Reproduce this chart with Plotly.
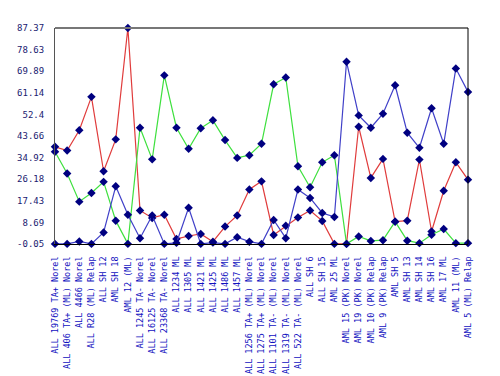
import plotly.graph_objects as go

categories = [
    "ALL 19769 TA+ Norel", "ALL 406 TA+ (ML) Norel", "ALL 4466 Norel", "ALL R28 (ML) Relap",
    "ALL SH 12", "AML SH 18", "AML 12 (ML)", "ALL 1245 TA- Norel", "ALL 16125 TA- Norel",
    "ALL 23368 TA- Norel", "ALL 1234 ML", "ALL 1305 ML", "ALL 1421 ML", "ALL 1425 ML",
    "ALL 1486 ML", "ALL 1457 ML", "ALL 1256 TA+ (ML) Norel", "ALL 1275 TA+ (ML) Norel",
    "ALL 1101 TA- (ML) Norel", "ALL 1319 TA- (ML) Norel", "ALL 522 TA- (ML) Norel",
    "ALL SH 6", "ALL SH 15", "AML 25 ML", "AML 15 (PK) Norel", "AML 19 (PK) Norel",
    "AML 10 (PK) Relap", "AML 9 (PK) Relap", "AML SH 5", "AML SH 13", "AML SH 14",
    "AML SH 16", "AML 17 ML", "AML 11 (ML)", "AML 5 (ML) Relap",
]

red_values = [39.3, 37.8, 46.0, 59.5, 29.4, 42.3, 87.37, 13.5, 10.5, 11.8, 2.0, 3.2, 4.0, 0.9,
              7.0, 11.5, 22.0, 25.3, 3.6, 7.3, 10.7, 13.5, 9.3, 0.0, 0.0, 47.4, 26.7, 34.4,
              9.0, 9.4, 34.1, 5.0, 21.5, 33.0, 26.0]
green_values = [37.3, 28.5, 17.1, 20.6, 25.1, 9.4, 0.0, 47.0, 34.2, 68.2, 47.0, 38.5, 46.8, 50.0,
                42.0, 34.8, 35.9, 40.5, 64.6, 67.3, 31.4, 22.9, 33.0, 35.9, 0.0, 3.0, 1.2, 1.5,
                9.0, 1.3, 0.3, 3.7, 6.0, 0.3, 0.3]
blue_values = [0.0, 0.0, 1.0, 0.0, 4.6, 23.3, 11.8, 2.3, 11.5, 0.0, 0.4, 14.6, 0.0, 0.5,
               0.0, 2.7, 0.9, 0.0, 9.7, 2.3, 22.0, 18.6, 12.5, 10.9, 73.7, 52.0, 47.0, 52.7,
               64.2, 45.0, 38.9, 54.9, 40.5, 71.0, 61.5]

y_tick_labels = ["-0.05", "8.69", "17.43", "26.18", "34.92", "43.66", "52.4", "61.14",
                 "69.89", "78.63", "87.37"]
y_tick_values = [float(t) for t in y_tick_labels]

x_idx = list(range(len(categories)))

fig = go.Figure()
for vals, col in [(red_values, "#e03c3c"), (green_values, "#3ee03e"), (blue_values, "#4040c8")]:
    fig.add_trace(go.Scatter(
        x=x_idx, y=vals, mode="lines+markers",
        line=dict(color=col, width=1.2),
        marker=dict(symbol="diamond", size=6.5, color="#000080"),
        cliponaxis=False, showlegend=False,
    ))

fig.update_layout(
    width=500, height=376,
    margin=dict(l=55, r=32, t=28, b=132),
    paper_bgcolor="white", plot_bgcolor="white",
    xaxis=dict(
        range=[0, len(categories) - 1], automargin=False,
        tickmode="array", tickvals=x_idx, ticktext=categories,
        tickangle=-90, showgrid=False, zeroline=False,
        showline=True, linecolor="black", linewidth=1,
        ticks="", ticklabelstandoff=8,
        tickfont=dict(family="DejaVu Sans Mono", size=8.5, color="#1010c0"),
    ),
    yaxis=dict(
        range=[-0.05, 87.37], automargin=False,
        tickmode="array", tickvals=y_tick_values, ticktext=y_tick_labels,
        showgrid=False, zeroline=False,
        showline=True, linecolor="#555555", linewidth=1,
        ticks="", ticklabelstandoff=8,
        tickfont=dict(family="DejaVu Sans Mono", size=9, color="#1a1a70"),
    ),
    shapes=[
        dict(type="line", xref="paper", yref="paper", x0=0, x1=1, y0=1, y1=1,
             line=dict(color="#777777", width=2)),
        dict(type="line", xref="paper", yref="paper", x0=1, x1=1, y0=0, y1=1,
             line=dict(color="black", width=1)),
    ],
)

fig.write_html("out.html", config={"displayModeBar": False},
               post_script="document.body.style.margin='0';document.body.style.overflow='hidden';")
